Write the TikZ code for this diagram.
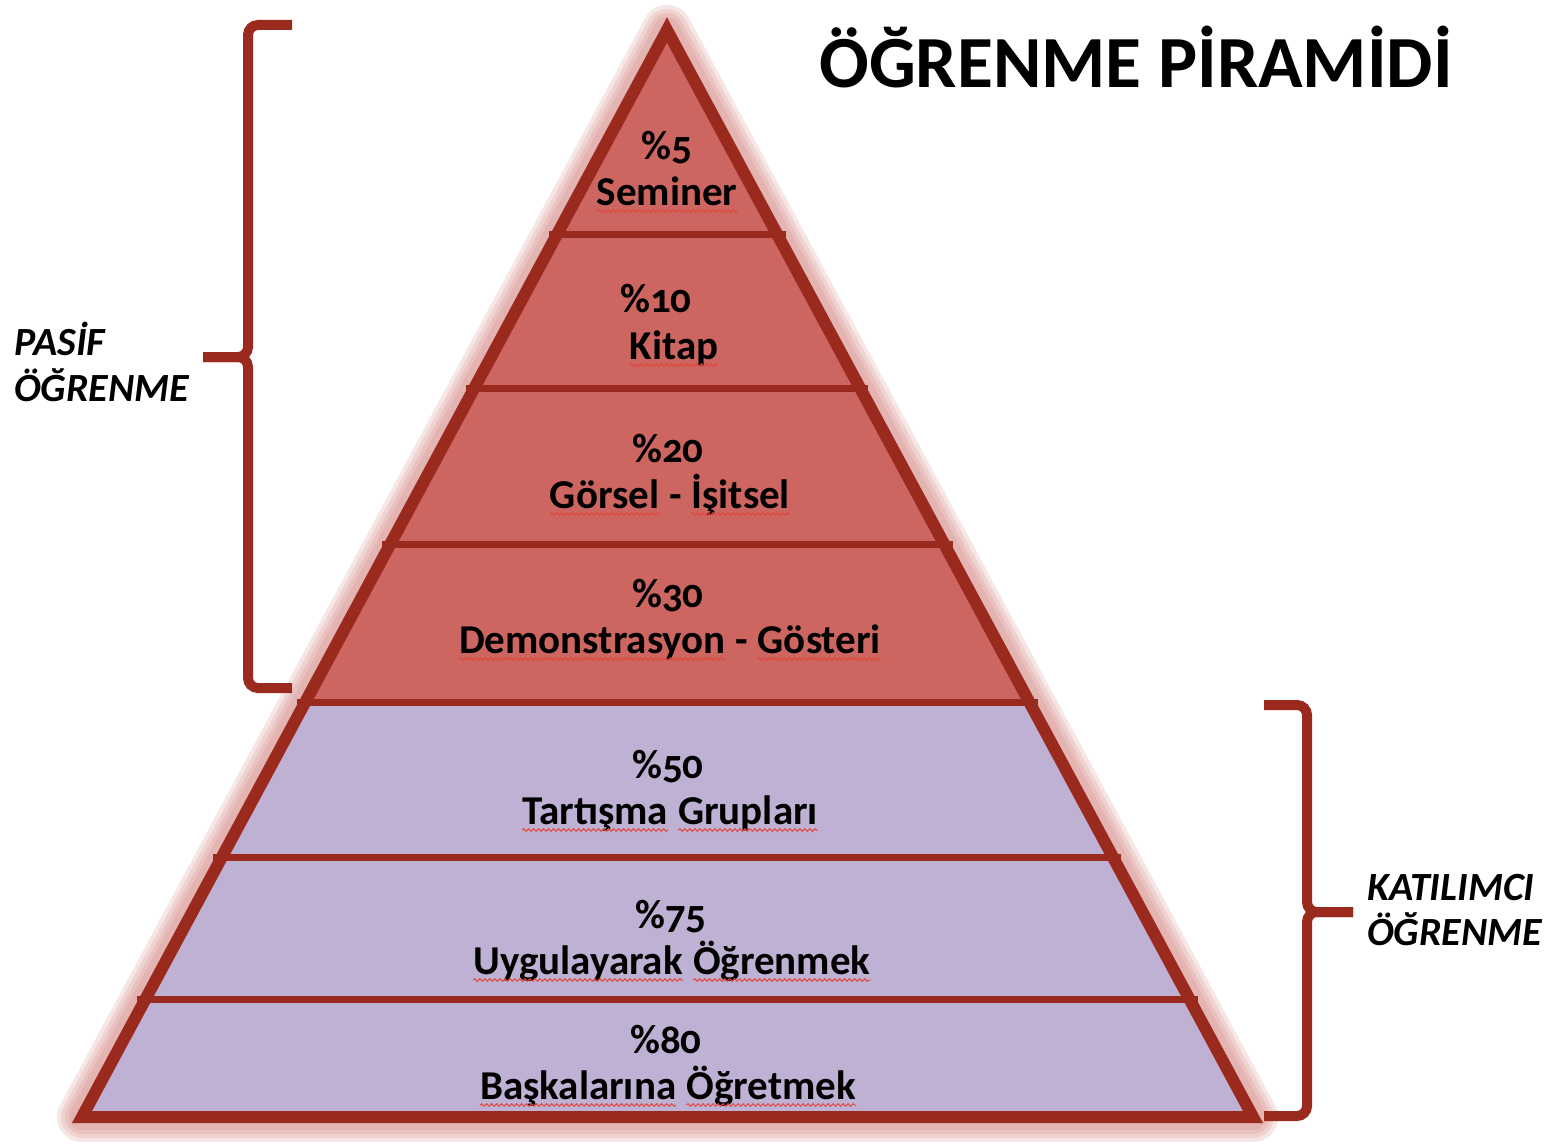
\documentclass[tikz,border=0pt]{standalone}
\usepackage{fontspec}
\setmainfont{Carlito}[Numbers=OldStyle]
\usetikzlibrary{calc,decorations.pathmorphing}
\definecolor{tierred}{RGB}{205,102,96}
\definecolor{tierpurple}{RGB}{191,177,211}
\definecolor{edgered}{RGB}{155,42,30}
\definecolor{glowred}{RGB}{205,110,105}
\definecolor{squigred}{RGB}{225,70,60}
\tikzset{
  squig/.style={draw=squigred, line width=1pt, decorate, decoration={snake, amplitude=1.3pt, segment length=5pt}},
  tiertext/.style={font=\fontsize{41}{46}\selectfont\bfseries, anchor=base, inner sep=0pt},
  sidetext/.style={font=\fontsize{40}{42}\selectfont\bfseries\itshape, anchor=base west, inner sep=0pt},
  titletext/.style={font=\fontsize{73.5}{78}\selectfont\bfseries, anchor=base, inner sep=0pt},
  bracestroke/.style={draw=edgered, line width=10pt, rounded corners=10pt},
  divider/.style={draw=edgered, line width=7pt, shorten <=-8pt, shorten >=-8pt},
  border/.style={draw=edgered, line width=12pt, line join=miter},
}
\newcommand\sq[1]{\tikz[baseline=(sqw.base)]{\node[inner sep=0pt,outer sep=0pt,anchor=base](sqw){#1};\draw[squig]([yshift=-6pt]sqw.base west)--([yshift=-6pt]sqw.base east);}}
\begin{document}
\begin{tikzpicture}[x=1pt,y=-1pt]
\useasboundingbox (0,0) rectangle (1547,1145);
\fill[white] (0,0) rectangle (1547,1145);
\coordinate (A) at (667,30);
\coordinate (BL) at (82,1117);
\coordinate (BR) at (1253,1117);
\foreach \yy [count=\i] in {235,388,545,703,858,1000}{
  \pgfmathsetmacro\ft{(\yy-30)/1087}
  \coordinate (L\i) at ($(A)!\ft!(BL)$);
  \coordinate (R\i) at ($(A)!\ft!(BR)$);
}
% glow
\foreach \w in {50,42,34,26}{
  \draw[glowred, opacity=0.16, line width=\w pt, line join=round] (A) -- (BR) -- (BL) -- cycle;
}
% fills
\fill[tierred] (A) -- (R4) -- (L4) -- cycle;
\fill[tierpurple] (L4) -- (R4) -- (BR) -- (BL) -- cycle;
% dividers
\foreach \i in {1,...,6}{
  \draw[divider] (L\i) -- (R\i);
}
\draw[border] (A) -- (BR) -- (BL) -- cycle;
% texts
\node[tiertext] (p1) at (667,159) {\%5};
\node[tiertext] (t1) at (667,205) {\sq{Seminer}};
\node[tiertext] (p2) at (656,312) {\%10};
\node[tiertext] (t2) at (674,359) {\sq{Kitap}};
\node[tiertext] (p3) at (668,462) {\%20};
\node[tiertext] (t3) at (670,508) {\sq{Görsel} - \sq{İşitsel}};
\node[tiertext] (p4) at (668,607) {\%30};
\node[tiertext] (t4) at (670,653) {\sq{Demonstrasyon} - \sq{Gösteri}};
\node[tiertext] (p5) at (668,778) {\%50};
\node[tiertext] (t5) at (670,824) {\sq{Tartışma} \sq{Grupları}};
\node[tiertext] (p6) at (671,928) {\%75};
\node[tiertext] (t6) at (672,974) {\sq{Uygulayarak} \sq{Öğrenmek}};
\node[tiertext] (p7) at (666,1053) {\%80};
\node[tiertext] (t7) at (668,1099) {\sq{Başkalarına} \sq{Öğretmek}};
% title
\node[titletext] (title) at (1136,88) {ÖĞRENME PİRAMİDİ};
% side labels
\node[sidetext] (pas1) at (14,355) {PASİF};
\node[sidetext] (pas2) at (14,401) {ÖĞRENME};
\node[sidetext] (kat1) at (1367,900) {KATILIMCI};
\node[sidetext] (kat2) at (1367,945) {ÖĞRENME};
% braces
\draw[bracestroke] (292,25) -- (248,25) -- (248,357) -- (203,357);
\draw[bracestroke] (203,357) -- (248,357) -- (248,688) -- (292,688);
\draw[bracestroke] (1264,705) -- (1307,705) -- (1307,912) -- (1353,912);
\draw[bracestroke] (1353,912) -- (1307,912) -- (1307,1116) -- (1264,1116);
\end{tikzpicture}
\end{document}
